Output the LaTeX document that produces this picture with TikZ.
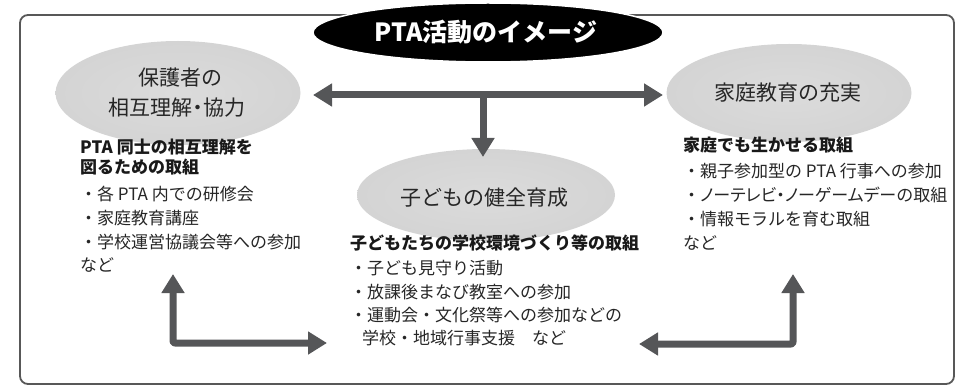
\documentclass[tikz,border=0pt]{standalone}
\usepackage{fontspec}
\setmainfont{Noto Sans CJK JP}
\newfontfamily\jpprop{Noto Sans CJK JP}[RawFeature=+palt]
\usetikzlibrary{arrows.meta,shapes.geometric}
\definecolor{arrowgray}{RGB}{85,86,88}
\definecolor{framegray}{RGB}{88,88,88}
\pgfdeclareradialshading{blob}{\pgfpoint{0bp}{0bp}}{color(0bp)=(black!14); color(26bp)=(black!17); color(37bp)=(black!14); color(46bp)=(white); color(50bp)=(white)}
\begin{document}
\begin{tikzpicture}[x=1pt,y=-1pt,
  blobnode/.style={ellipse, shading=blob, inner sep=0pt},
  titlenode/.style={ellipse, fill=black, draw=white, line width=1.5pt, inner sep=0pt, minimum width=350pt, minimum height=59pt},
  titletext/.style={font=\bfseries\fontsize{25pt}{25pt}\selectfont, text=white, anchor=base, inner sep=0pt},
  lbl/.style={font=\fontsize{21pt}{21pt}\selectfont, text=black!85, anchor=base, inner sep=0pt},
  headtext/.style={font=\bfseries\fontsize{17pt}{17pt}\selectfont, text=black!90, anchor=base west, inner sep=0pt},
  itemtext/.style={font=\fontsize{17pt}{17pt}\selectfont, text=black!85, anchor=base west, inner sep=0pt},
  arr/.style={draw=arrowgray, line width=7pt, line join=round}
]
\useasboundingbox (0,0) rectangle (964,390);
% frame
\draw[framegray, line width=1.8pt, rounded corners=8pt] (20,15) rectangle (954,384);
% title
\node[titlenode] (title) at (488,32.5) {};
\node[titletext] (titlet) at (486,41.5) {PTA活動のイメージ};
% blobs
\node[blobnode, minimum width=245pt, minimum height=104pt] (L) at (178,93) {};
\node[blobnode, minimum width=245pt, minimum height=98pt] (R) at (789,93) {};
\node[blobnode, minimum width=258pt, minimum height=92pt] (C) at (486,195) {};
% blob labels
\node[lbl] (L1) at (180,86) {保護者の};
\node[lbl] (L2) at (177,116) {相互理解{\jpprop ・}協力};
\node[lbl] (R1) at (788,101) {家庭教育の充実};
\node[lbl] (C1) at (484,206) {子どもの健全育成};
% left block
\node[headtext] (lh1) at (80,153.5) {PTA 同士の相互理解を};
\node[headtext] (lh2) at (80,173.5) {図るための取組};
\node[itemtext] (li1) at (80,200.5) {・各 PTA 内での研修会};
\node[itemtext] (li2) at (80,224.5) {・家庭教育講座};
\node[itemtext] (li3) at (80,248.5) {・学校運営協議会等への参加};
\node[itemtext] (li4) at (80,271.5) {など};
% center block
\node[headtext] (ch1) at (350,249.5) {子どもたちの学校環境づくり等の取組};
\node[itemtext] (ci1) at (350,274.5) {・子ども見守り活動};
\node[itemtext] (ci2) at (350,298.5) {・放課後まなび教室への参加};
\node[itemtext] (ci3) at (350,321.5) {・運動会・文化祭等への参加などの};
\node[itemtext] (ci4) at (350,344.5) {\hspace{12pt}学校・地域行事支援　など};
% right block
\node[headtext] (rh1) at (683,151.5) {家庭でも生かせる取組};
\node[itemtext] (ri1) at (683,177.5) {・親子参加型の PTA 行事への参加};
\node[itemtext] (ri2) at (683,201.5) {・{\jpprop ノーテレビ・ノーゲームデー}の取組};
\node[itemtext] (ri3) at (683,225.5) {・情報モラルを育む取組};
\node[itemtext] (ri4) at (683,249.5) {など};
% arrow coordinates
\coordinate (hl) at (313,95);
\coordinate (hr) at (663,95);
\coordinate (hj) at (483,98);
\coordinate (vt) at (483,157);
\coordinate (bl1) at (173,274);
\coordinate (bl2) at (327,343);
\coordinate (br1) at (639,344);
\coordinate (br2) at (793,274);
% arrows
\draw[arr, {Triangle[length=19pt, width=22pt]}-{Triangle[length=19pt, width=22pt]}] (hl) -- (hr);
\draw[arr, -{Triangle[length=19pt, width=22pt]}] (hj) -- (vt);
\draw[arr, rounded corners=2pt, {Triangle[length=19pt, width=22pt]}-{Triangle[length=19pt, width=22pt]}] (bl1) |- (bl2);
\draw[arr, rounded corners=2pt, {Triangle[length=19pt, width=22pt]}-{Triangle[length=19pt, width=22pt]}] (br1) -| (br2);
\end{tikzpicture}
\end{document}
